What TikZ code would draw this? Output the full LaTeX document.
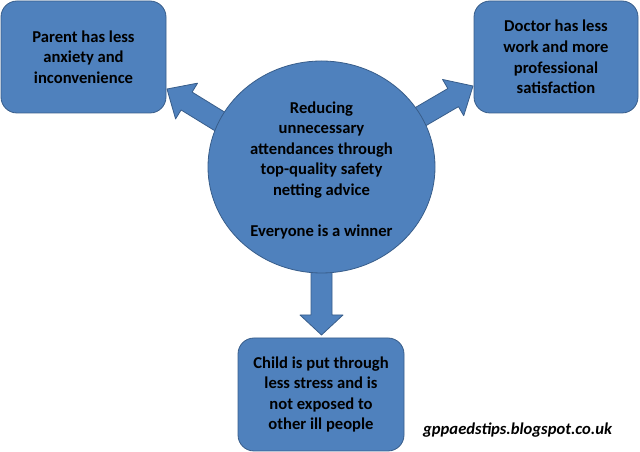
\documentclass[tikz,border=0pt]{standalone}
\usepackage{fontspec}
\setmainfont{Carlito}
\usetikzlibrary{calc,shapes.geometric}
\definecolor{boxfill}{HTML}{4F81BD}
\definecolor{boxline}{HTML}{385D8A}
\tikzset{
  x=1pt, y=1pt,
  shapeline/.style={fill=boxfill, draw=boxline, line width=0.8pt, line join=round},
  outcome/.style={shapeline, rounded corners=16pt, align=center, inner sep=0pt,
    font=\fontsize{16.6}{20.6}\selectfont\bfseries, text=black},
  hub/.style={shapeline, ellipse, align=center, inner sep=0pt,
    font=\fontsize{16.6}{20.5}\selectfont\bfseries, text=black},
}
% block arrow: #1 tip coordinate, #2 angle, #3 length, #4 head length, #5 head half width, #6 shaft half width
\newcommand{\blockarrow}[6]{%
  \begin{scope}[shift={(#1)}, rotate=#2]
    \path[shapeline] (0,0) -- (-#4,#5) -- (-#4,#6) -- (-#3,#6) -- (-#3,-#6) -- (-#4,-#6) -- (-#4,-#5) -- cycle;
  \end{scope}}
\begin{document}
\begin{tikzpicture}
\useasboundingbox (0,0) rectangle (640,452);
% outcome boxes
\node[outcome, minimum width=165pt, minimum height=112pt] (parent) at (83.5,395)
  {Parent has less\\anxiety and\\inconvenience};
\node[outcome, minimum width=164pt, minimum height=112pt] (doctor) at (556,395)
  {Doctor has less\\work and more\\professional\\satisfaction};
\node[outcome, minimum width=166pt, minimum height=113pt] (child) at (321,57.5)
  {Child is put through\\less stress and is\\not exposed to\\other ill people};
% arrow tips
\coordinate (lt) at (167,363);
\coordinate (rt) at (473,366);
\coordinate (dt) at (321.5,117);
\blockarrow{lt}{148.4}{130}{23}{21}{10.5}
\blockarrow{rt}{30.3}{130}{23}{21}{10.5}
\blockarrow{dt}{-90}{110}{20}{21.5}{10.5}
% hub
\node[hub, minimum width=227pt, minimum height=212pt] (hubnode) at (321.5,285) {};
\node[align=center, inner sep=0pt, font=\fontsize{16.6}{20.5}\selectfont\bfseries] (hubtext) at (321.5,282)
  {Reducing\\unnecessary\\attendances through\\top-quality safety\\netting advice\\ ~\\Everyone is a winner};
% credit
\node[anchor=base west, inner sep=0pt, font=\fontsize{16.6}{18}\selectfont\bfseries\itshape] (credit) at (423,17)
  {gppaedstips.blogspot.co.uk};
\end{tikzpicture}
\end{document}
